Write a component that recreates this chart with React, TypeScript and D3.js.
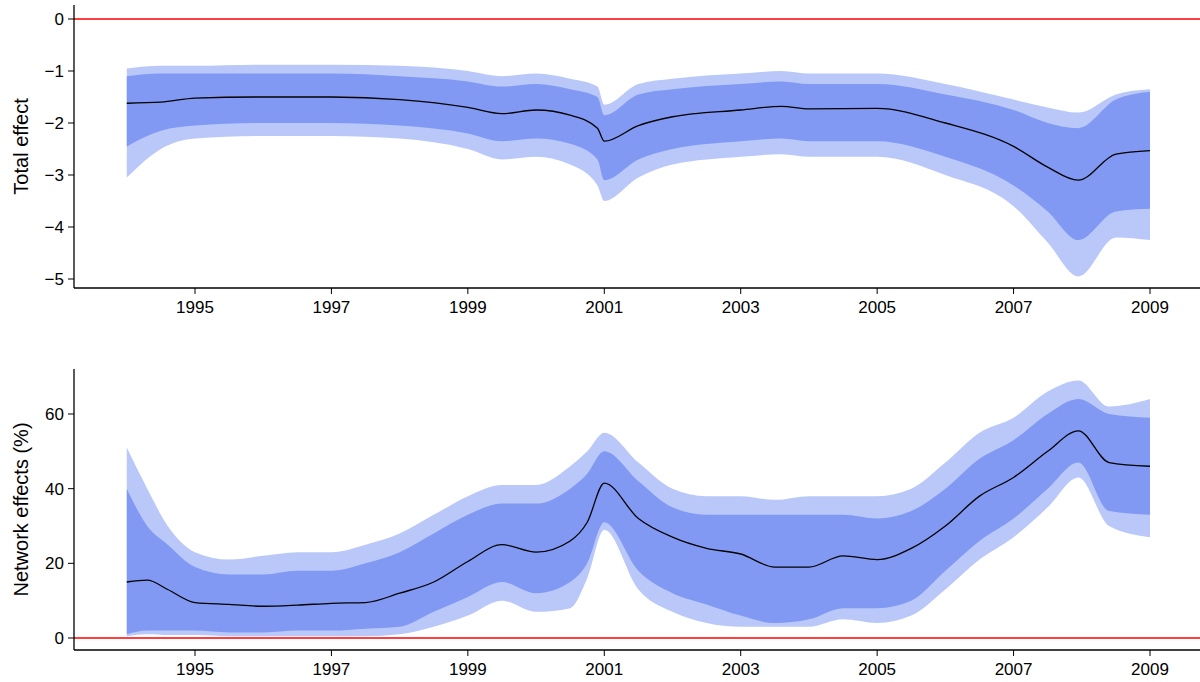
import React from 'react';
import * as d3 from 'd3';

// top panel: total effect
const t1 = [1994.0, 1994.5, 1995, 1996, 1997, 1998, 1999, 1999.5, 2000, 2000.5, 2000.9, 2001.0, 2001.5, 2002, 2003, 2003.6, 2004, 2005, 2006, 2007, 2007.5, 2007.95, 2008.5, 2009];
const mid1 = [-1.62, -1.6, -1.52, -1.5, -1.5, -1.55, -1.7, -1.82, -1.75, -1.85, -2.1, -2.35, -2.05, -1.88, -1.75, -1.68, -1.73, -1.72, -2.0, -2.45, -2.85, -3.1, -2.6, -2.53];
const innerHi1 = [-1.1, -1.05, -1.05, -1.05, -1.05, -1.1, -1.2, -1.3, -1.25, -1.35, -1.5, -1.85, -1.45, -1.35, -1.25, -1.2, -1.25, -1.25, -1.45, -1.75, -2.0, -2.1, -1.55, -1.4];
const innerLo1 = [-2.45, -2.15, -2.05, -2.0, -2.0, -2.05, -2.2, -2.35, -2.3, -2.4, -2.7, -3.1, -2.7, -2.5, -2.35, -2.3, -2.35, -2.35, -2.65, -3.2, -3.7, -4.25, -3.7, -3.65];
const outerHi1 = [-0.95, -0.9, -0.9, -0.88, -0.88, -0.9, -1.0, -1.1, -1.05, -1.15, -1.3, -1.65, -1.25, -1.15, -1.05, -1.0, -1.05, -1.05, -1.25, -1.55, -1.7, -1.8, -1.45, -1.35];
const outerLo1 = [-3.05, -2.5, -2.3, -2.25, -2.25, -2.3, -2.5, -2.7, -2.65, -2.8, -3.2, -3.5, -3.05, -2.8, -2.65, -2.6, -2.65, -2.65, -3.0, -3.6, -4.3, -4.95, -4.2, -4.25];

// bottom panel: network effects (%)
const t2 = [1994.0, 1994.3, 1994.6, 1995, 1995.5, 1996, 1996.5, 1997, 1997.5, 1998, 1998.5, 1999, 1999.5, 2000, 2000.5, 2000.75, 2001.0, 2001.5, 2002, 2002.5, 2003, 2003.5, 2004, 2004.5, 2005, 2005.5, 2006, 2006.5, 2007, 2007.5, 2007.95, 2008.4, 2009];
const mid2 = [15, 15.5, 13, 9.5, 9, 8.5, 8.8, 9.3, 9.5, 12, 15, 20.5, 25, 23, 26, 31, 41.5, 32, 27, 24, 22.5, 19, 19, 22, 21, 24, 30, 38, 43, 50, 55.5, 47, 46];
const innerHi2 = [40, 30, 25, 19, 17, 17, 18, 18, 20, 23, 28, 33, 36, 36, 40, 44, 50, 42, 35, 33, 33, 33, 33, 33, 32, 34, 40, 48, 53, 60, 64, 60, 59];
const innerLo2 = [1, 2, 2, 2, 1.5, 1.5, 2, 2, 2.5, 3, 7, 11, 15, 12, 15, 20, 31, 18, 12, 9, 6, 4, 5, 8, 8, 10, 18, 26, 32, 40, 47, 34, 33];
const outerHi2 = [51, 40, 30, 23, 21, 22, 23, 23, 25, 28, 33, 38, 41, 41, 46, 50, 55, 47, 40, 38, 38, 37, 38, 38, 38, 40, 47, 55, 59, 66, 69, 62, 64];
const outerLo2 = [0.5, 1, 0.8, 0.8, 0.5, 0.5, 0.5, 0.5, 0.5, 1, 3, 6, 10, 7, 8, 16, 29, 13, 7, 4, 3, 3, 3, 5, 4, 6, 13, 21, 27, 35, 43, 30, 27];

const xTicks = [1995, 1997, 1999, 2001, 2003, 2005, 2007, 2009];
const yTicks1 = [0, -1, -2, -3, -4, -5];
const yTicks2 = [0, 20, 40, 60];

const FONT = '"Liberation Sans", Arial, sans-serif';
const x = d3.scaleLinear().domain([1995, 2009]).range([195, 1150]);

const fmt = (v: number) => (v < 0 ? '\u2212' + Math.abs(v) : String(v));

function Panel({ t, mid, iLo, iHi, oLo, oHi, y, ticks, axisY, axisTop, title }: any) {
  const area = (lo: number[], hi: number[]) =>
    d3.area<number>().curve(d3.curveMonotoneX).x((d) => x(d)).y0((_, i) => y(lo[i])).y1((_, i) => y(hi[i]))(t) || '';
  const line = d3.line<number>().curve(d3.curveMonotoneX).x((d) => x(d)).y((_, i) => y(mid[i]))(t) || '';
  const midY = (axisTop + axisY) / 2;
  return (
    <g>
      <path d={area(oLo, oHi)} fill="#b9c8f9" />
      <path d={area(iLo, iHi)} fill="#8199f2" />
      <path d={line} fill="none" stroke="#000" strokeWidth={1.3} />
      <line x1={74} x2={1200} y1={y(0)} y2={y(0)} stroke="#f00" strokeWidth={1.3} />
      <line x1={74} x2={74} y1={axisTop} y2={axisY} stroke="#000" strokeWidth={1.3} />
      <line x1={74} x2={1200} y1={axisY} y2={axisY} stroke="#000" strokeWidth={1.3} />
      {ticks.map((v: number) => (
        <g key={v}>
          <line x1={68} x2={74} y1={y(v)} y2={y(v)} stroke="#000" />
          <text x={64} y={y(v)} dy="0.35em" textAnchor="end" fontSize={17} fontFamily={FONT}>{fmt(v)}</text>
        </g>
      ))}
      {xTicks.map((v) => (
        <g key={v}>
          <line x1={x(v)} x2={x(v)} y1={axisY} y2={axisY + 6} stroke="#000" />
          <text x={x(v)} y={axisY + 25} textAnchor="middle" fontSize={17} fontFamily={FONT}>{v}</text>
        </g>
      ))}
      <text transform={`translate(28,${midY}) rotate(-90)`} textAnchor="middle" fontSize={20} fontFamily={FONT}>{title}</text>
    </g>
  );
}

export default function App() {
  const y1 = d3.scaleLinear().domain([-5, 0]).range([279, 19]);
  const y2 = d3.scaleLinear().domain([0, 60]).range([638, 414]);
  return (
    <svg width={1200} height={682} style={{ position: 'absolute', left: 0, top: 0 }}>
      <rect width={1200} height={682} fill="#fff" />
      <Panel t={t1} mid={mid1} iLo={innerLo1} iHi={innerHi1} oLo={outerLo1} oHi={outerHi1}
        y={y1} ticks={yTicks1} axisY={288} axisTop={5} title="Total effect" />
      <Panel t={t2} mid={mid2} iLo={innerLo2} iHi={innerHi2} oLo={outerLo2} oHi={outerHi2}
        y={y2} ticks={yTicks2} axisY={650} axisTop={369} title="Network effects (%)" />
    </svg>
  );
}
